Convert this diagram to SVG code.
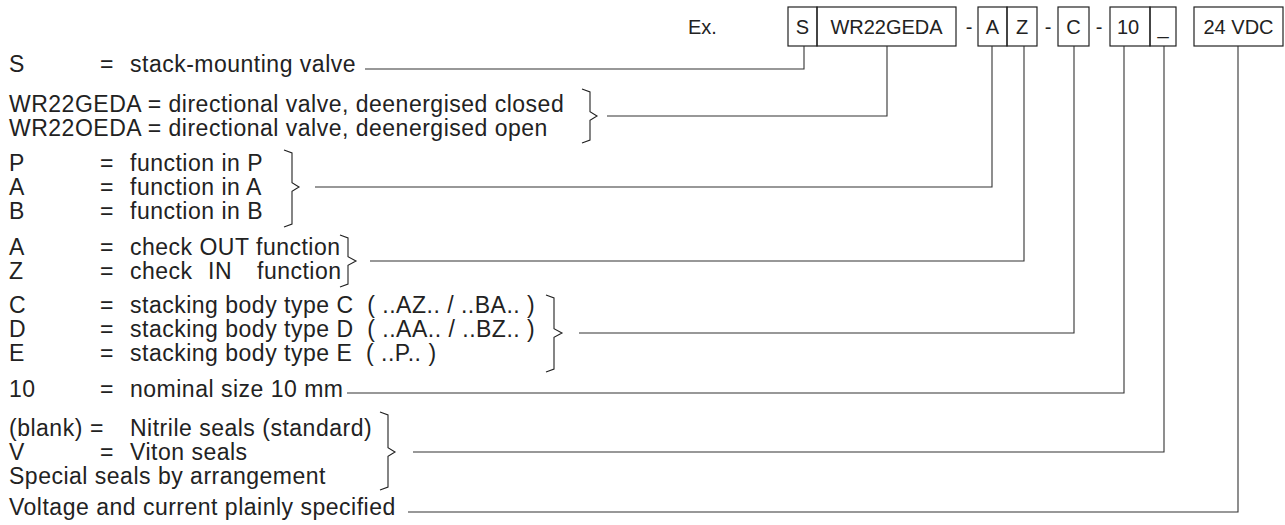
<svg xmlns="http://www.w3.org/2000/svg" width="1285" height="525" viewBox="0 0 1285 525">
<style>
text{font-family:"Liberation Sans",Arial,sans-serif;fill:#222}
.l{font-size:23px;letter-spacing:0.5px}
.b{font-size:20px}
.c{text-anchor:middle}
.box{fill:none;stroke:#222;stroke-width:1.2}
.ln{fill:none;stroke:#333;stroke-width:1.1}
.br{fill:none;stroke:#222;stroke-width:1.1;stroke-linejoin:miter}
</style>
<rect width="1285" height="525" fill="#fff"/>
<g id="code">
<text class="b" x="688" y="34">Ex.</text>
<rect class="box" x="788" y="7" width="29" height="39"/>
<text class="b c" x="802.5" y="34">S</text>
<rect class="box" x="817" y="7" width="139" height="39"/>
<text class="b c" x="886.5" y="34">WR22GEDA</text>
<text class="b c" x="969" y="34">-</text>
<rect class="box" x="978" y="7" width="29" height="39"/>
<text class="b c" x="992.5" y="34">A</text>
<rect class="box" x="1007" y="7" width="30" height="39"/>
<text class="b c" x="1022" y="34">Z</text>
<text class="b c" x="1048" y="34">-</text>
<rect class="box" x="1058" y="7" width="31" height="39"/>
<text class="b c" x="1073.5" y="34">C</text>
<text class="b c" x="1099" y="34">-</text>
<rect class="box" x="1110" y="7" width="40" height="39"/>
<text class="b" x="1117" y="34">10</text>
<rect class="box" x="1150" y="7" width="26" height="39"/>
<text class="b c" x="1163" y="34">_</text>
<rect class="box" x="1194" y="7" width="89" height="39"/>
<text class="b c" x="1238.5" y="34">24 VDC</text>
</g>
<g id="legend-s">
<text class="l" x="9" y="72">S</text><text class="l" x="100" y="72">=</text><text class="l" x="130" y="72">stack-mounting valve</text>
</g>
<g id="legend-wr">
<text class="l" x="9" y="112">WR22GEDA = directional valve, deenergised closed</text>
<text class="l" x="9" y="136">WR22OEDA = directional valve, deenergised open</text>
<path class="br" d="M582,89 L590,92 L590,111.7 L597,116 L590,120.3 L590,140 L582,143"/>
</g>
<g id="legend-pab">
<text class="l" x="9" y="171">P</text><text class="l" x="100" y="171">=</text><text class="l" x="130" y="171">function in P</text>
<text class="l" x="9" y="195">A</text><text class="l" x="100" y="195">=</text><text class="l" x="130" y="195">function in A</text>
<text class="l" x="9" y="219">B</text><text class="l" x="100" y="219">=</text><text class="l" x="130" y="219">function in B</text>
<path class="br" d="M284,150 L292,153 L292,182.7 L299,187 L292,191.3 L292,224 L284,227"/>
</g>
<g id="legend-az">
<text class="l" x="9" y="255">A</text><text class="l" x="100" y="255">=</text><text class="l" x="130" y="255">check OUT function</text>
<text class="l" x="9" y="279">Z</text><text class="l" x="100" y="279">=</text><text class="l" x="130" y="279">check</text><text class="l" x="208" y="279">IN</text><text class="l" x="257" y="279">function</text>
<path class="br" d="M340,235 L348,238 L348,256.7 L356,261 L348,265.3 L348,284 L340,287"/>
</g>
<g id="legend-cde">
<text class="l" x="9" y="313">C</text><text class="l" x="100" y="313">=</text><text class="l" x="130" y="313" xml:space="preserve">stacking body type C  ( ..AZ.. / ..BA.. )</text>
<text class="l" x="9" y="337">D</text><text class="l" x="100" y="337">=</text><text class="l" x="130" y="337" xml:space="preserve">stacking body type D  ( ..AA.. / ..BZ.. )</text>
<text class="l" x="9" y="361">E</text><text class="l" x="100" y="361">=</text><text class="l" x="130" y="361" xml:space="preserve">stacking body type E  ( ..P.. )</text>
<path class="br" d="M546,295 L554,298 L554,328.7 L562,333 L554,337.3 L554,369 L546,372"/>
</g>
<g id="legend-10">
<text class="l" x="9" y="397">10</text><text class="l" x="100" y="397">=</text><text class="l" x="130" y="397">nominal size 10 mm</text>
</g>
<g id="legend-seals">
<text class="l" x="9" y="436">(blank)</text><text class="l" x="90" y="436">=</text><text class="l" x="130" y="436">Nitrile seals (standard)</text>
<text class="l" x="9" y="460">V</text><text class="l" x="100" y="460">=</text><text class="l" x="130" y="460">Viton seals</text>
<text class="l" x="9" y="484">Special seals by arrangement</text>
<path class="br" d="M380,412 L388,415 L388,447.7 L395,452 L388,456.3 L388,487 L380,490"/>
</g>
<g id="legend-voltage">
<text class="l" x="9" y="515">Voltage and current plainly specified</text>
</g>
<g id="connectors">
<polyline class="ln" points="365,69 804,69 804,46"/>
<polyline class="ln" points="607,116 887,116 887,46"/>
<polyline class="ln" points="315,187 992,187 992,46"/>
<polyline class="ln" points="370,261 1024,261 1024,46"/>
<polyline class="ln" points="579,333 1074,333 1074,46"/>
<polyline class="ln" points="347,393 1124,393 1124,46"/>
<polyline class="ln" points="413,452 1164,452 1164,46"/>
<polyline class="ln" points="408,512 1238,512 1238,46"/>
</g>
</svg>
